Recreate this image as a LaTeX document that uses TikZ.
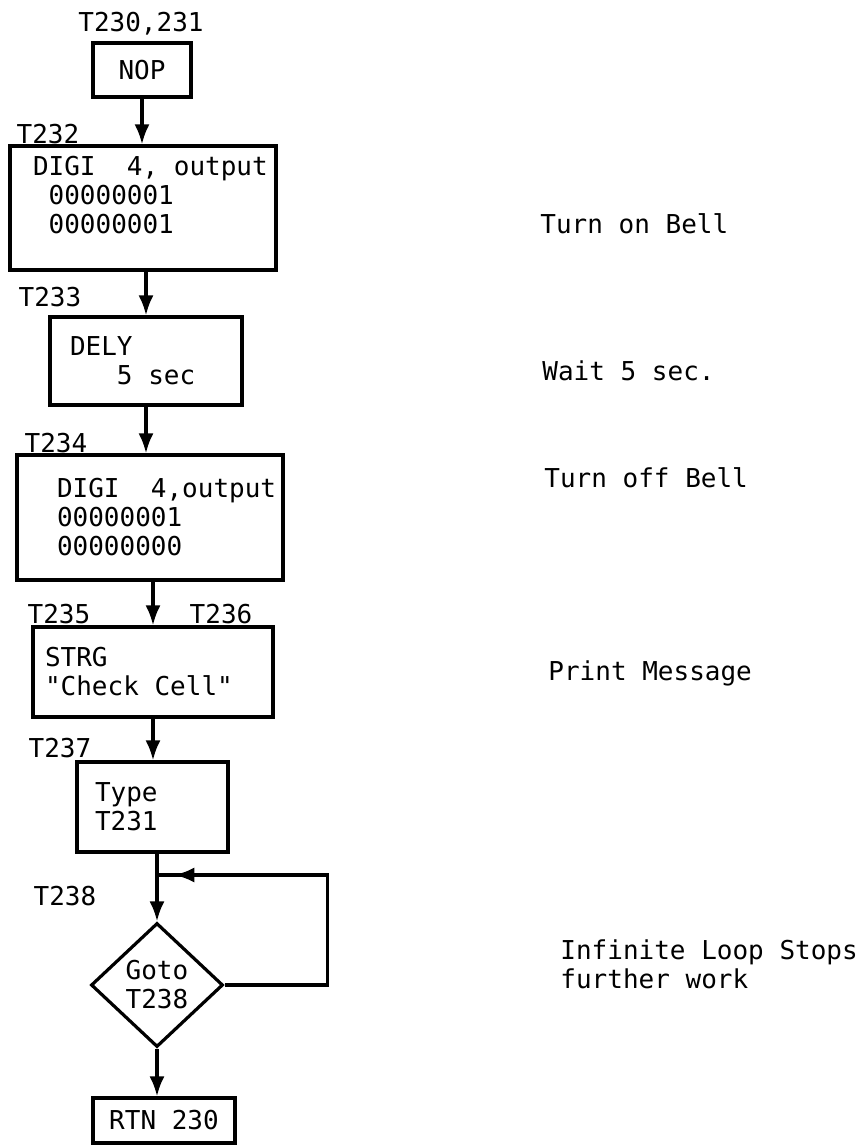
\documentclass[tikz,border=0pt]{standalone}
\usepackage{fontspec}
\setmainfont{DejaVu Sans Mono}[Ligatures=TeXOff, WordSpace={1,0,0}]
\usetikzlibrary{arrows.meta,shapes.geometric,decorations.markings}
\hyphenpenalty=10000
\exhyphenpenalty=10000
\tikzset{
	box/.style={draw, line width=1.6pt, inner xsep=0pt, inner ysep=0pt, align=left,
		execute at begin node={\spaceskip=0.602em\relax}},
	diam/.style={draw, diamond, line width=1.6pt, minimum width=66pt, minimum height=62pt, inner sep=0pt, align=center},
	lbl/.style={inner sep=0pt},
	note/.style={inner sep=0pt, anchor=base west, align=left,
		execute at begin node={\spaceskip=0.602em\relax}},
	arr/.style={line width=1.6pt, -{Latex[length=10pt,width=7.5pt]}},
	wire/.style={line width=1.6pt}
}

\begin{document}
\begin{tikzpicture}[x=0.5pt, y=-0.5pt, font=\fontsize{13pt}{14.5pt}\selectfont]
		%%%%% START %%%%%
		\useasboundingbox (0,0) rectangle (867,1146);
		
		\node[lbl] (t230) at (141,24) {T230,231};
		\node[box, minimum width=49pt, minimum height=27pt, align=center] (nop) at (142,70) {NOP};
		
		\node[lbl] (t232) at (48,134) {T232};
		\node[box, minimum width=133pt, minimum height=62pt, text width=110pt] (digiA) at (143,208)
			{DIGI~~4,~output\\~00000001\\~00000001\\[-6pt]\strut};
		
		\node[lbl] (t233) at (50,297) {T233};
		\node[box, minimum width=96pt, minimum height=44pt, text width=76pt] (dely) at (146,361)
			{DELY\\~~~5~sec};
		
		\node[lbl] (t234) at (56,443) {T234};
		\node[box, minimum width=133pt, minimum height=62.5pt, text width=93pt] (digiB) at (150,517.5)
			{DIGI~~4,output\\00000001\\00000000};
		
		\node[lbl] (t235) at (59,614) {T235};
		\node[lbl] (t236) at (221,614) {T236};
		\node[box, minimum width=120pt, minimum height=45pt, text width=108pt] (strg) at (153,672)
			{STRG\\"Check~Cell"};
		
		\node[lbl] (t237) at (60,748) {T237};
		\node[box, minimum width=75.5pt, minimum height=45pt, text width=57.5pt] (type) at (152.5,807)
			{Type\\T231};
		
		\node[lbl] (t238) at (65,896) {T238};
		\coordinate (join) at (157,875);
		\node[diam] (goto) at (157,985) {Goto\\T238};
		
		\node[box, minimum width=71pt, minimum height=22.5pt, align=center] (rtn) at (164,1120.5) {RTN 230};
		
		% connectors
		\draw[arr] (nop.south) -- (nop.south |- digiA.north);
		\draw[arr] (dely.north |- digiA.south) -- (dely.north);
		\draw[arr] (dely.south) -- (dely.south |- digiB.north);
		\draw[arr] (strg.north |- digiB.south) -- (strg.north);
		\draw[arr] (strg.south) -- (strg.south |- type.north);
		\draw[wire] (type.south -| join) -- (join);
		\draw[arr] (join) -- (goto.north);
		\draw[wire, postaction={decorate}, decoration={markings, mark=at position 0.955 with {\arrow{Latex[length=10pt,width=7.5pt]}}}]
			(goto.east) -- ++(103,0) |- (join);
		\draw[arr] (goto.south) -- (goto.south |- rtn.north);
		
		% notes
		\node[note] (n1) at (540,233) {Turn on Bell};
		\node[note] (n2) at (542,380) {Wait 5 sec.};
		\node[note] (n3) at (544,487) {Turn off Bell};
		\node[note] (n4) at (548,680) {Print Message};
		\node[note] (n5) at (560,988) {Infinite Loop Stops\\further work};
		%%%%% END %%%%%
\end{tikzpicture}
\end{document}
